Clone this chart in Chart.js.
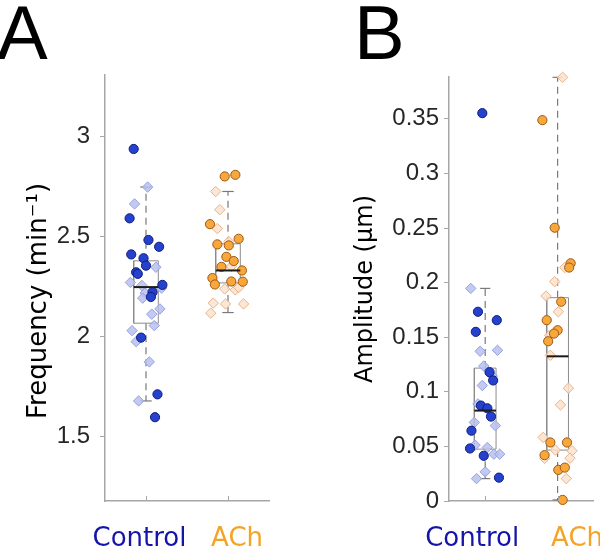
<!DOCTYPE html>
<html><head><meta charset="utf-8">
<script src="https://cdn.jsdelivr.net/npm/chart.js@4/dist/chart.umd.min.js"></script>
<style>
html,body{margin:0;padding:0;background:#fff;width:600px;height:548px;overflow:hidden;}
#wa{position:absolute;left:0;top:0;width:300px;height:548px;}
#wb{position:absolute;left:300px;top:0;width:300px;height:548px;}
.lbl{position:absolute;font-family:"Liberation Sans",Arial,sans-serif;font-size:76px;line-height:76px;color:#000;}
</style></head><body>
<div id="wa"><canvas id="ca" width="300" height="548"></canvas></div>
<div id="wb"><canvas id="cb" width="300" height="548"></canvas></div>
<div class="lbl" style="left:-3px;top:-5px">A</div>
<div class="lbl" style="left:354px;top:-5px">B</div>
<script>
// ---------- data ----------
const categories = ['Control', 'ACh'];
const catPositions = [1, 2];
const catColors = ['#1414aa', '#f5a325'];

// Panel A: Frequency (min^-1)
const freqTicks = [1.5, 2, 2.5, 3];
const freqCtrlCircX = [0.85, 0.80, 1.03, 1.16, 0.82, 0.97, 1.00, 0.88, 0.90, 1.20, 1.08, 1.06, 0.94, 1.14, 1.11];
const freqCtrlCircY = [2.936, 2.59, 2.482, 2.448, 2.41, 2.391, 2.354, 2.321, 2.313, 2.258, 2.222, 2.198, 1.995, 1.712, 1.598];
const freqCtrlDiamX = [1.02, 0.86, 1.12, 0.81, 0.95, 1.19, 0.99, 0.96, 1.17, 1.07, 1.10, 0.83, 0.88, 1.04, 0.91];
const freqCtrlDiamY = [2.746, 2.662, 2.346, 2.27, 2.255, 2.242, 2.217, 2.192, 2.138, 2.112, 2.055, 2.03, 1.975, 1.874, 1.679];
const freqAchCircX = [1.96, 2.09, 1.78, 2.13, 1.87, 2.01, 1.98, 2.07, 1.92, 2.17, 1.81, 2.04, 1.84, 2.18];
const freqAchCircY = [2.799, 2.807, 2.561, 2.488, 2.46, 2.455, 2.398, 2.377, 2.348, 2.33, 2.292, 2.275, 2.26, 2.274];
const freqAchDiamX = [1.85, 1.90, 1.87, 2.01, 2.04, 1.96, 2.09, 2.13, 1.82, 1.97, 2.19, 1.79];
const freqAchDiamY = [2.724, 2.633, 2.539, 2.474, 2.35, 2.238, 2.233, 2.245, 2.167, 2.163, 2.163, 2.117];
// box: [lower whisker, q1, median, q3, upper whisker]
const freqBoxCtrl = [1.679, 2.067, 2.247, 2.378, 2.746];
const freqBoxAch = [2.12, 2.268, 2.33, 2.463, 2.724];

// Panel B: Amplitude (µm)
const ampTicks = [0, 0.05, 0.1, 0.15, 0.2, 0.25, 0.3, 0.35];
const ampCtrlCircX = [0.96, 0.90, 1.16, 0.87, 1.06, 1.11, 0.94, 1.03, 1.08, 0.81, 0.79, 0.98, 1.19];
const ampCtrlCircY = [0.3552, 0.1733, 0.1656, 0.1549, 0.118, 0.1104, 0.0874, 0.0849, 0.0773, 0.0644, 0.0481, 0.0414, 0.0214];
const ampCtrlDiamX = [0.80, 0.93, 1.17, 0.98, 1.10, 0.96, 0.90, 0.85, 1.14, 0.86, 1.03, 1.12, 1.20, 1.00, 0.88];
const ampCtrlDiamY = [0.1947, 0.1371, 0.138, 0.1236, 0.1144, 0.1058, 0.0889, 0.072, 0.069, 0.0512, 0.049, 0.0429, 0.0429, 0.0267, 0.0205];
const ampAchCircX = [1.79, 1.96, 2.18, 2.16, 2.05, 1.85, 2.00, 1.95, 1.87, 1.90, 2.13, 1.82, 2.01, 2.10, 2.07];
const ampAchCircY = [0.3488, 0.2503, 0.2177, 0.2138, 0.1825, 0.1656, 0.1564, 0.1533, 0.1463, 0.0536, 0.0536, 0.042, 0.0285, 0.0306, 0.001];
const ampAchDiamX = [2.07, 2.10, 1.96, 1.84, 2.01, 1.89, 1.90, 2.15, 2.04, 1.80, 1.97, 2.20, 1.82, 2.17, 2.12];
const ampAchDiamY = [0.388, 0.2138, 0.2009, 0.1877, 0.1733, 0.1518, 0.1334, 0.1033, 0.088, 0.0582, 0.0466, 0.046, 0.039, 0.0392, 0.0205];
const ampBoxCtrl = [0.0205, 0.0475, 0.0828, 0.1217, 0.1947];
const ampBoxAch = [0.001, 0.0466, 0.1325, 0.1862, 0.388];

// ---------- styles ----------
const ctrlCirc = {bg: 'rgb(38,66,205)', bd: 'rgb(14,28,130)'};
const ctrlDiam = {bg: 'rgba(185,193,238,0.85)', bd: 'rgb(150,160,222)'};
const achCirc = {bg: 'rgb(248,168,58)', bd: 'rgb(160,88,20)'};
const achDiam = {bg: 'rgba(253,227,204,0.85)', bd: 'rgb(228,180,140)'};
const BOXW = 0.15, CAPW = 0.07;
const boxGray = '#8c8c8c';

function zip(xs, ys) { return xs.map((x, i) => ({x: x, y: ys[i]})); }

function pts(xs, ys, st, style, r, ord) {
  return {data: zip(xs, ys), showLine: false, pointStyle: style, pointRadius: r,
    pointBackgroundColor: st.bg, pointBorderColor: st.bd, pointBorderWidth: 1, clip: false, order: ord};
}
function line(points, color, width, dash, ord) {
  return {data: points, showLine: true, pointRadius: 0, borderColor: color, borderWidth: width,
    borderDash: dash || [], fill: false, clip: false, order: ord};
}
function boxSets(c, b) {
  const [lo, q1, md, q3, hi] = b;
  return [
    line([{x: c, y: q3}, {x: c, y: hi}], '#7a7a7a', 1.2, [7, 5], 5),
    line([{x: c, y: q1}, {x: c, y: lo}], '#7a7a7a', 1.2, [7, 5], 5),
    line([{x: c - CAPW, y: hi}, {x: c + CAPW, y: hi}], '#7a7a7a', 1.2, null, 5),
    line([{x: c - CAPW, y: lo}, {x: c + CAPW, y: lo}], '#7a7a7a', 1.2, null, 5),
    line([{x: c - BOXW, y: q1}, {x: c + BOXW, y: q1}, {x: c + BOXW, y: q3}, {x: c - BOXW, y: q3}, {x: c - BOXW, y: q1}], boxGray, 1, null, 4),
    line([{x: c - BOXW, y: md}, {x: c + BOXW, y: md}], '#1a1a1a', 2, null, 0)
  ];
}

const inTicks = {
  id: 'inTicks',
  afterDraw(chart) {
    const xs = chart.scales.x, ctx = chart.ctx;
    ctx.save();
    ctx.strokeStyle = '#a6a6a6'; ctx.lineWidth = 1;
    xs.ticks.forEach(t => {
      const px = Math.round(xs.getPixelForValue(t.value)) + 0.5;
      ctx.beginPath(); ctx.moveTo(px, xs.top); ctx.lineTo(px, xs.top - 5); ctx.stroke();
    });
    ctx.restore();
  }
};

function panel(id, o) {
  const datasets = []
    .concat(boxSets(catPositions[0], o.boxC), boxSets(catPositions[1], o.boxA))
    .concat([
      pts(o.cdX, o.cdY, ctrlDiam, 'rectRot', 5.2, 3),
      pts(o.adX, o.adY, achDiam, 'rectRot', 5.2, 3),
      pts(o.ccX, o.ccY, ctrlCirc, 'circle', 4.6, 1),
      pts(o.acX, o.acY, achCirc, 'circle', 4.6, 1)
    ]);
  new Chart(document.getElementById(id), {
    type: 'scatter',
    data: {datasets},
    plugins: [inTicks],
    options: {
      responsive: false, animation: false, devicePixelRatio: 1,
      layout: {padding: {top: o.top, right: o.right, left: 0, bottom: 0}},
      plugins: {legend: {display: false}, tooltip: {enabled: false}},
      scales: {
        x: {
          type: 'linear', min: 0.5, max: 2.5,
          afterBuildTicks(s) { s.ticks = catPositions.map(v => ({value: v})); },
          afterFit(s) { s.height = 47; s.paddingLeft = 0; s.paddingRight = 0; },
          ticks: {
            autoSkip: false, maxRotation: 0, padding: o.xpad,
            // spacing characters nudge each label sideways, as in the original figure
            callback: (v, i) => i === 0 ? categories[i] + o.gapL : o.gapR + categories[i],
            color: ctx => catColors[ctx.index],
            font: {family: 'DejaVu Sans', size: 26}
          },
          grid: {display: false, drawTicks: false},
          border: {display: true, color: '#a6a6a6', width: 1.5}
        },
        y: {
          type: 'linear', min: o.ymin, max: o.ymax,
          afterBuildTicks(s) { s.ticks = o.ticks.map(v => ({value: v})); },
          afterFit(s) { s.width = o.yw; s.paddingTop = 0; s.paddingBottom = 0; },
          ticks: {
            padding: o.ypad, color: '#262626',
            callback: v => String(v),
            font: {family: 'Liberation Sans', size: 24}
          },
          grid: {display: true, drawOnChartArea: false, tickLength: 5, color: '#a6a6a6'},
          border: {display: true, color: '#a6a6a6', width: 1.5},
          title: {display: true, text: o.title, color: '#000',
            font: {family: 'DejaVu Sans', size: o.tsize}, padding: {top: o.tpad, bottom: 0}}
        }
      }
    }
  });
}

panel('ca', {
  ccX: freqCtrlCircX, ccY: freqCtrlCircY, cdX: freqCtrlDiamX, cdY: freqCtrlDiamY,
  acX: freqAchCircX, acY: freqAchCircY, adX: freqAchDiamX, adY: freqAchDiamY,
  boxC: freqBoxCtrl, boxA: freqBoxAch, ticks: freqTicks,
  ymin: 1.18, ymax: 3.305, top: 75, right: 31, yw: 105, ypad: 10, xpad: 23, tpad: 24, tsize: 26,
  gapL: '\u2002', gapR: '\u2002\u2009',
  title: 'Frequency (min\u207B\u00B9)\u2002\u2002'
});
panel('cb', {
  ccX: ampCtrlCircX, ccY: ampCtrlCircY, cdX: ampCtrlDiamX, cdY: ampCtrlDiamY,
  acX: ampAchCircX, acY: ampAchCircY, adX: ampAchDiamX, adY: ampAchDiamY,
  boxC: ampBoxCtrl, boxA: ampBoxAch, ticks: ampTicks,
  ymin: 0, ymax: 0.3883, top: 77, right: 1, yw: 149, ypad: 5, xpad: 23, tpad: 51, tsize: 24,
  gapL: '\u2002\u2002', gapR: '\u2002\u2002\u2002',
  title: 'Amplitude (\u00B5m)'
});
</script>
</body></html>
